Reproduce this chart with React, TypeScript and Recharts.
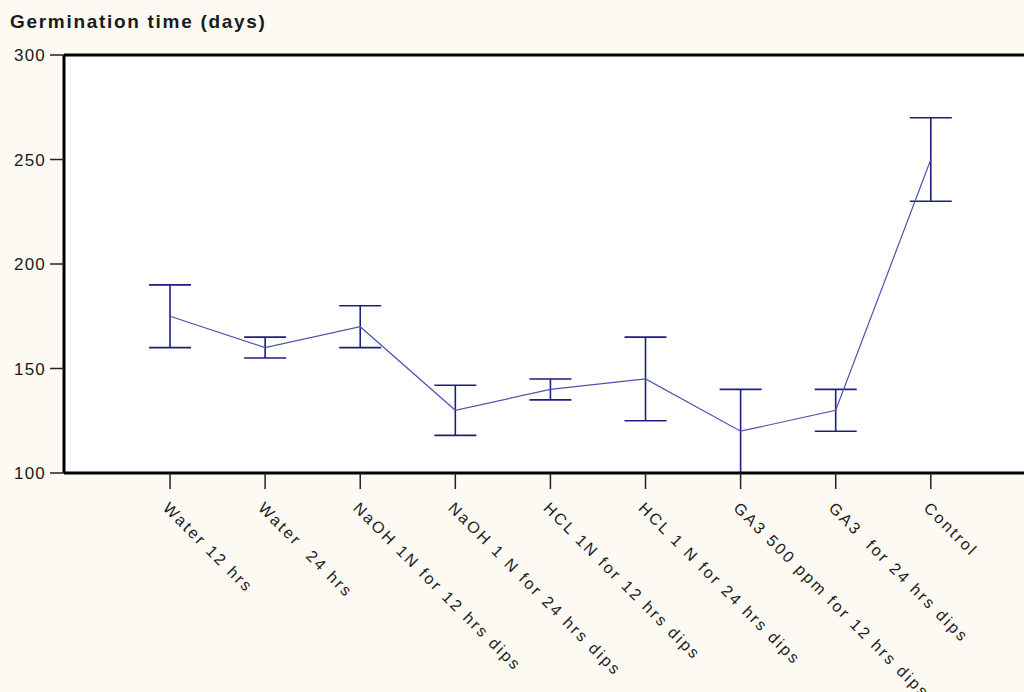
import React from 'react';
import { LineChart, Line, XAxis, YAxis, CartesianGrid, ErrorBar, ReferenceLine } from 'recharts';

const treatments = [
  'Water 12 hrs',
  'Water  24 hrs',
  'NaOH 1N for 12 hrs dips',
  'NaOH 1 N for 24 hrs dips',
  'HCL 1N for 12 hrs dips',
  'HCL 1 N for 24 hrs dips',
  'GA3 500 ppm for 12 hrs dips',
  'GA3  for 24 hrs dips',
  'Control',
];
const meanDays = [175, 160, 170, 130, 140, 145, 120, 130, 250];
const errDays = [15, 5, 10, 12, 5, 20, 20, 10, 20];
const yTicks = [100, 150, 200, 250, 300];

const data = treatments.map((name, i) => ({ idx: i, name, mean: meanDays[i], err: errDays[i] }));

const FONT = '"Liberation Sans", Arial, sans-serif';

const SlantTick = (props: { x?: number; y?: number; payload?: { value: number } }) => {
  const { x = 0, y = 0, payload } = props;
  const label = payload ? treatments[payload.value] : '';
  const tx = x - 8;
  const ty = y + 20;
  return (
    <text x={tx} y={ty} transform={`rotate(45, ${tx}, ${ty})`} textAnchor="start"
      style={{ fontFamily: FONT, fontSize: 16, letterSpacing: 2.4, fill: '#1a1a1a', whiteSpace: 'pre' }}>
      {label}
    </text>
  );
};

export default function App() {
  return (
    <div style={{ position: 'fixed', left: 0, top: 0, width: 1024, height: 692, background: '#fcfaf3' }}>
      <div style={{
        position: 'absolute', left: 10, top: 13, fontFamily: FONT, fontWeight: 700,
        fontSize: 19, lineHeight: '18px', letterSpacing: 1.7, color: '#1a1a1a',
      }}>
        Germination time (days)
      </div>
      <LineChart width={1024} height={692} data={data}
        margin={{ top: 55, right: 0, bottom: 0, left: 0 }}>
        <CartesianGrid fill="#ffffff" horizontal={false} vertical={false} stroke="none" />
        <XAxis type="number" dataKey="idx" domain={[-1.115, 8.98]} allowDataOverflow
          ticks={[0, 1, 2, 3, 4, 5, 6, 7, 8]} interval={0}
          axisLine={{ stroke: '#000', strokeWidth: 3 }}
          tickLine={{ stroke: '#222', strokeWidth: 1.5 }} tickSize={16} tickMargin={0}
          tick={<SlantTick />} height={219} />
        <YAxis type="number" domain={[100, 300]} ticks={yTicks} allowDataOverflow width={64}
          axisLine={{ stroke: '#000', strokeWidth: 3 }}
          tickLine={{ stroke: '#222', strokeWidth: 1.5 }} tickSize={14} tickMargin={4}
          tick={{ fill: '#1a1a1a', fontSize: 17, fontFamily: FONT, letterSpacing: 1.2 }} />
        <ReferenceLine y={300} stroke="#000" strokeWidth={3} />
        <Line type="linear" dataKey="mean" stroke="#5050b0" strokeWidth={1.2} dot={false}
          isAnimationActive={false}>
          <ErrorBar dataKey="err" direction="y" width={21} stroke="#1e1e80" strokeWidth={1.6}
            isAnimationActive={false} />
        </Line>
      </LineChart>
    </div>
  );
}
